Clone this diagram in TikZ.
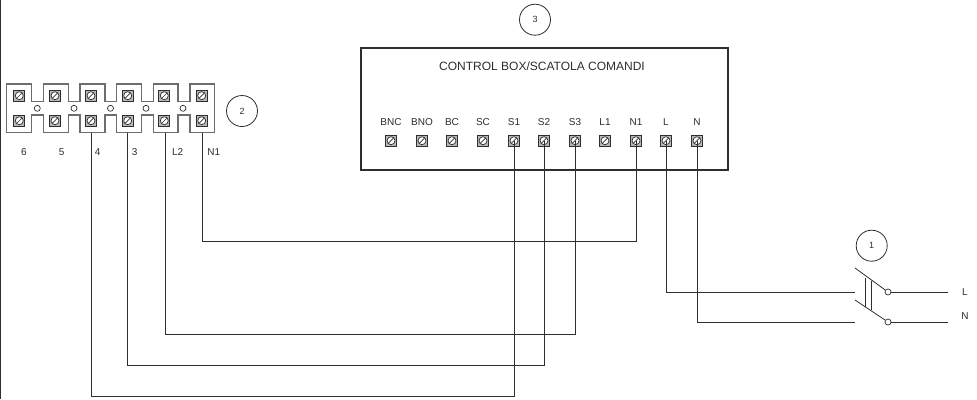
\documentclass[tikz,border=0pt]{standalone}
\usepackage{fontspec}
\setmainfont{Liberation Sans}
\definecolor{ink}{gray}{0.18}
\definecolor{screwfill}{gray}{0.72}
\tikzset{
  lab/.style={inner sep=0pt,text=ink,font=\fontsize{10}{10}\selectfont},
  tag/.style={circle,draw=ink,line width=0.8pt,minimum size=31pt,inner sep=0pt,text=ink,font=\fontsize{9}{9}\selectfont},
  wire/.style={draw=ink,line width=0.8pt},
  blockline/.style={draw=ink!70,line width=1.1pt},
  screwbox/.style={rectangle,draw=ink,fill=screwfill,line width=0.8pt,minimum size=11pt,inner sep=0pt},
  hole/.style={circle,draw=ink,fill=white,line width=0.7pt,minimum size=6pt,inner sep=0pt},
}
\newcommand{\screw}[3]{%
  \node[screwbox] (#1) at (#2,#3) {};
  \draw[draw=ink,fill=white,line width=0.7pt] (#2,#3) circle (4pt);
  \draw[draw=ink,line width=0.7pt] (#2-2.8,#3+2.8) -- (#2+2.8,#3-2.8);
}
\begin{document}
\begin{tikzpicture}[x=1pt,y=-1pt]
\useasboundingbox (0,0) rectangle (977,399);
\fill[white] (0,0) rectangle (977,399);
% left page edge
\draw[draw=ink,line width=1.6pt] (0.6,0) -- (0.6,399);
% terminal block outline
\draw[blockline] (6.7,84) -- (31.7,84) -- (31.7,101.7) -- (43.3,101.7) -- (43.3,84) -- (68.3,84) -- (68.3,101.7) -- (80,101.7) -- (80,84) -- (105,84) -- (105,101.7) -- (116.7,101.7) -- (116.7,84) -- (141.7,84) -- (141.7,101.7) -- (153.3,101.7) -- (153.3,84) -- (178,84) -- (178,101.7) -- (190,101.7) -- (190,84) -- (214.3,84)
 -- (214.3,132.7) -- (190,132.7) -- (190,115) -- (178,115) -- (178,132.7) -- (153.3,132.7) -- (153.3,115) -- (141.7,115) -- (141.7,132.7) -- (116.7,132.7) -- (116.7,115) -- (105,115) -- (105,132.7) -- (80,132.7) -- (80,115) -- (68.3,115) -- (68.3,132.7) -- (43.3,132.7) -- (43.3,115) -- (31.7,115) -- (31.7,132.7) -- (6.7,132.7) -- cycle;
\node[hole] (h1) at (37.3,108.3) {};
\node[hole] (h2) at (74,108.3) {};
\node[hole] (h3) at (110.5,108.3) {};
\node[hole] (h4) at (146,108.3) {};
\node[hole] (h5) at (183,108.3) {};
\screw{ta}{19.3}{95.7}\screw{tb}{55}{95.7}\screw{tc}{91}{95.7}\screw{td}{127.7}{95.7}\screw{te}{164.3}{95.7}\screw{tf}{201.7}{95.7}
\screw{ua}{19.3}{120.7}\screw{ub}{55}{120.7}\screw{uc}{91}{120.7}\screw{ud}{127.7}{120.7}\screw{ue}{164.3}{120.7}\screw{uf}{201.7}{120.7}
\coordinate (w4) at (91.7,132.7);
\coordinate (w3) at (127.3,132.7);
\coordinate (wL) at (165.3,132.7);
\coordinate (wN) at (202.3,132.7);
\node[lab] (l6) at (24,151.7) {6};
\node[lab] (l5) at (61.7,151.7) {5};
\node[lab] (l4) at (97.7,151.7) {4};
\node[lab] (l3) at (134.7,151.7) {3};
\node[lab] (lL2) at (177.7,151.7) {L2};
\node[lab] (lN1) at (213.7,151.7) {N1};
\node[tag] (c2) at (242,111) {2};
% control box
\draw[draw=ink,line width=1.7pt] (361,47.7) rectangle (728,170);
\node[lab,font=\fontsize{12}{12}\selectfont] (title) at (542,66.7) {CONTROL BOX/SCATOLA COMANDI};
\node[tag] (c3) at (535,19.7) {3};
\foreach \n/\x/\t in {bnc/391/BNC,bno/422/BNO,bco/452/BC,sco/483/SC,sa/514/S1,sb/544/S2,sd/575/S3,la/605/L1,na/636/N1,ll/666/L,nn/697/N}{
  \node[lab] (t\n) at (\x,122) {\t};
}
\screw{bnc}{391}{140.7}\screw{bno}{422}{140.7}\screw{bco}{452}{140.7}\screw{sco}{483}{140.7}
\screw{sa}{514}{140.7}\screw{sb}{544}{140.7}\screw{sd}{575}{140.7}\screw{la}{605}{140.7}
\screw{na}{636}{140.7}\screw{ll}{666}{140.7}\screw{nn}{697}{140.7}
% switch
\coordinate (swL) at (855,292);
\coordinate (swN) at (855,322);
\node[hole] (o1) at (888,292) {};
\node[hole] (o2) at (888,322) {};
\coordinate (bl1) at (855,268);
\coordinate (bl2) at (855,300);
\draw[wire] (bl1) -- (o1);
\draw[wire] (bl2) -- (o2);
\draw[wire] (865.7,278) -- (865.7,307);
\draw[wire] (871.7,281) -- (871.7,310);
\coordinate (endL) at (948,292);
\coordinate (endN) at (948,322);
\draw[wire] (o1) -- (endL);
\draw[wire] (o2) -- (endN);
\node[lab] (swl) at (965,292) {L};
\node[lab] (swn) at (965,316) {N};
\node[tag] (c1) at (871.7,245.7) {1};
% wires
\draw[wire] (na.center) |- (wN |- 0,241) -- (wN);
\draw[wire] (sd.center) |- (wL |- 0,334) -- (wL);
\draw[wire] (sb.center) |- (w3 |- 0,365) -- (w3);
\draw[wire] (sa.center) |- (w4 |- 0,396) -- (w4);
\draw[wire] (ll.center) |- (swL);
\draw[wire] (nn.center) |- (swN);
\end{tikzpicture}
\end{document}
